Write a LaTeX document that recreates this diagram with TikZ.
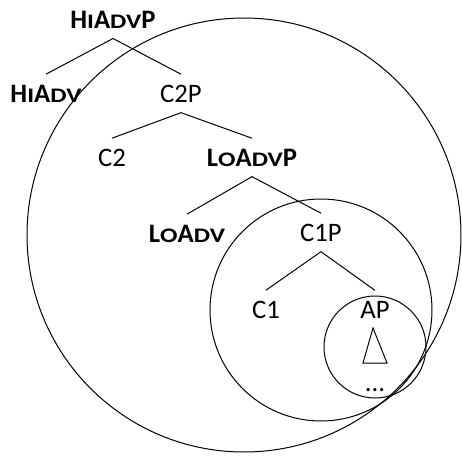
\documentclass[tikz,border=0pt]{standalone}
\usepackage{fontspec}
\usepackage{graphicx}
\setmainfont{Carlito}
\newcommand{\fsc}[1]{\scalebox{1.25}[1]{\fontsize{15.5}{18}\selectfont #1}}
\tikzset{every picture/.style={line width=0.75pt}}
\tikzset{lbl/.style={anchor=base, inner xsep=0.75pt, inner ysep=7.5pt, font=\fontsize{20}{24}\selectfont}}

\begin{document}
\begin{tikzpicture}[x=0.75pt,y=0.75pt,yscale=-1,xscale=1]
    \useasboundingbox (0,0) rectangle (462,457);

    %Shape: Circle [id:outer]
    \draw  (244,235) circle (217) ;
    %Shape: Circle [id:middle]
    \draw  (321,310) circle (111) ;
    %Shape: Circle [id:inner]
    \draw  (375,347) circle (51) ;
    %Shape: Triangle [id:roof]
    \draw  (373,328) -- (363,363) -- (387,363) -- cycle ;

    % Text Node
    \node [lbl] (hiadvp) at (113,28) {\textbf{H\fsc{I}A\fsc{DV}P}};
    % Text Node
    \node [lbl] (hiadv) at (46,102) {\textbf{H\fsc{I}A\fsc{DV}}};
    % Text Node
    \node [lbl] (c2p) at (181,102) {C2P};
    % Text Node
    \node [lbl] (c2) at (112,166) {C2};
    % Text Node
    \node [lbl] (loadvp) at (252,166) {\textbf{L\fsc{O}A\fsc{DV}P}};
    % Text Node
    \node [lbl] (loadv) at (187,242) {\textbf{L\fsc{O}A\fsc{DV}}};
    % Text Node
    \node [lbl] (c1p) at (321,241) {C1P};
    % Text Node
    \node [lbl] (c1) at (266,318) {C1};
    % Text Node
    \node [lbl] (ap) at (375,318) {AP};
    % Text Node
    \node [lbl] (dots) at (375,391) {...};

    %Straight Lines
    \draw    (hiadvp.south) -- (hiadv.north) ;
    \draw    (hiadvp.south) -- (c2p.north) ;
    \draw    (c2p.south) -- (c2.north) ;
    \draw    (c2p.south) -- (loadvp.north) ;
    \draw    (loadvp.south) -- (loadv.north) ;
    \draw    (loadvp.south) -- (c1p.north) ;
    \draw    (c1p.south) -- (c1.north) ;
    \draw    (c1p.south) -- (ap.north) ;

\end{tikzpicture}
\end{document}
